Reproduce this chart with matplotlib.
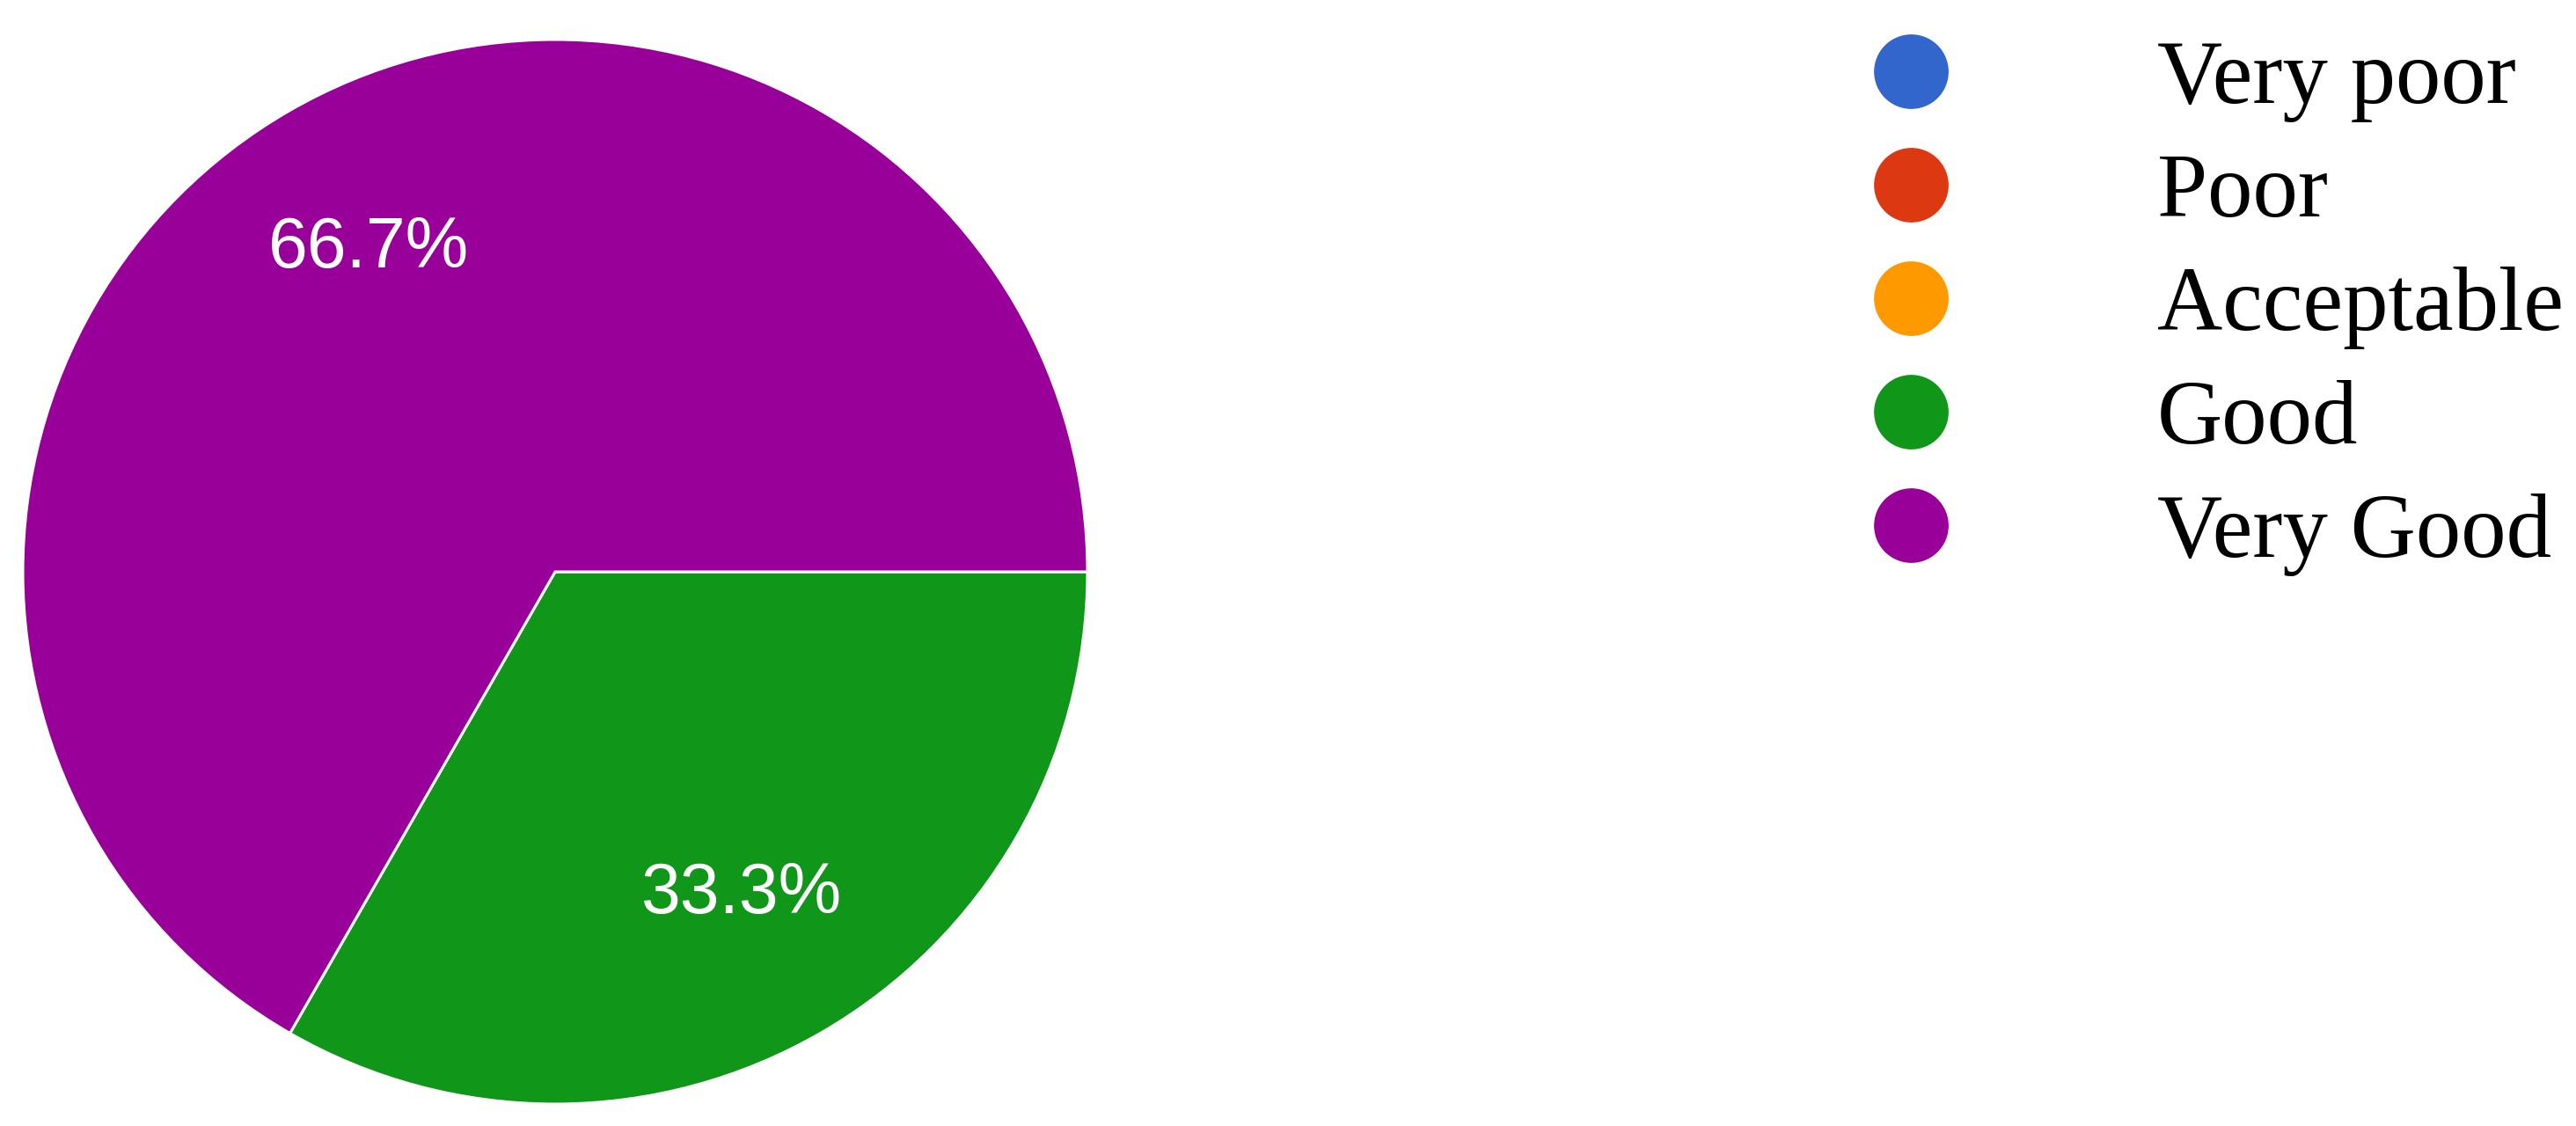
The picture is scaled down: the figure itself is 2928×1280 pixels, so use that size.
import matplotlib
matplotlib.use("Agg")
import matplotlib.pyplot as plt
from matplotlib.lines import Line2D

categories = ["Very poor", "Poor", "Acceptable", "Good", "Very Good"]
colors = ["#3366CC", "#DC3912", "#FF9900", "#109618", "#990099"]
shares = [0.0, 0.0, 0.0, 33.3, 66.7]

fig = plt.figure(figsize=(29.28, 12.8), dpi=100)
ax = fig.add_axes([26 / 2928, 25 / 1280, 1210 / 2928, 1210 / 1280])

# only the non-empty slices are drawn, the legend keeps every category
vals = [v for v in shares if v > 0]
cols = [c for v, c in zip(shares, colors) if v > 0]
wedges, texts, autotexts = ax.pie(
    vals, colors=cols, startangle=0, counterclock=False,
    autopct="%1.1f%%", pctdistance=0.7,
    wedgeprops=dict(edgecolor="white", linewidth=2.2),
    textprops=dict(color="white", fontsize=58, family="Liberation Sans"))
ax.set_xlim(-1, 1)
ax.set_ylim(-1, 1)

handles = [Line2D([0], [0], marker="o", linestyle="none", markersize=60,
                  markerfacecolor=c, markeredgecolor=c) for c in colors]
fig.legend(handles, categories, loc="upper left",
           bbox_to_anchor=(2121 / 2928, 1 - 45 / 1280),
           frameon=False, borderpad=0, borderaxespad=0,
           handlelength=1.0, handletextpad=2.22, labelspacing=0.34,
           prop=dict(family="Liberation Serif", size=74))

fig.savefig("out.png", dpi=100, facecolor="white")
